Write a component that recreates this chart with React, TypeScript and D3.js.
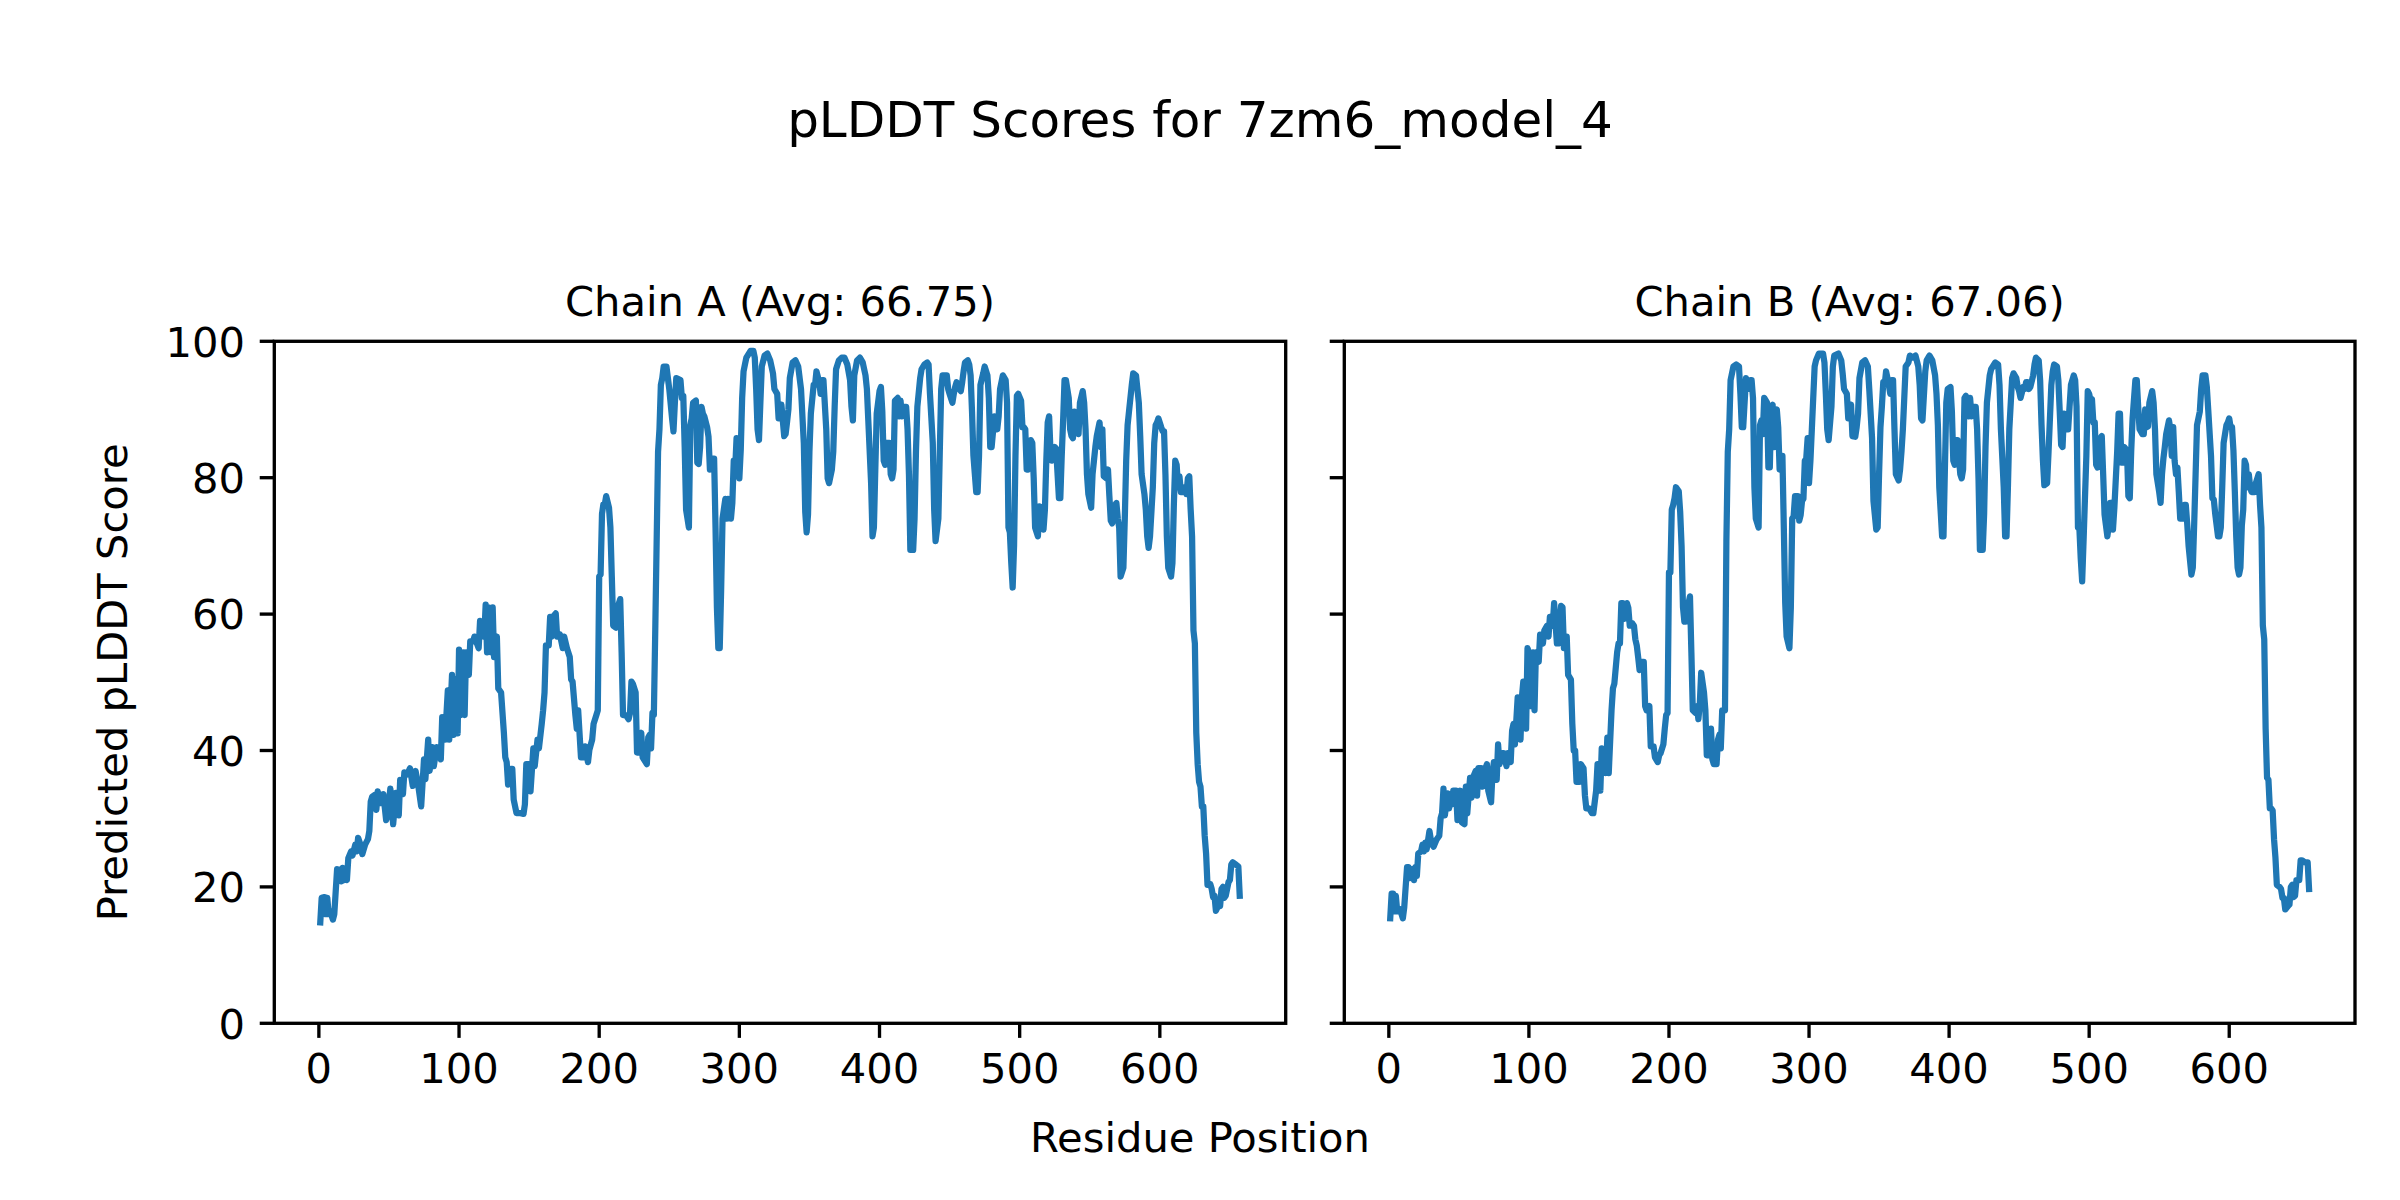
import React from "react";
import * as d3 from "d3";

const figureTitle = "pLDDT Scores for 7zm6_model_4";
const chainTitles = ["Chain A (Avg: 66.75)", "Chain B (Avg: 67.06)"];
const xLabel = "Residue Position";
const yLabel = "Predicted pLDDT Score";
const xTicks = [0, 100, 200, 300, 400, 500, 600];
const yTicks = [0, 20, 40, 60, 80, 100];
const nResidues = 657;

const chainA: [number, number][] = [
[1,14.8],[2,18.4],[4,18.5],[5,16.0],[6,18.4],[7,16.0],[8,16.5],[10,15.2],[11,16.0],[13,22.6],[15,22.5],[16,20.8],[17,22.8],[18,21.0],[19,22.6],[20,21.0],[21,24.2],[23,25.2],[24,24.6],[26,26.2],[27,25.2],[28,27.2],[30,26.0],[31,24.8],[33,26.2],[35,27.0],[36,28.2],[37,32.5],[38,33.2],[40,33.5],[41,31.3],[42,34.0],[43,32.5],[44,32.3],[45,33.5],[46,33.6],[48,29.8],[49,30.5],[51,34.4],[53,29.2],[55,33.8],[57,30.5],[58,35.7],[60,33.6],[61,36.8],[63,36.5],[65,37.4],[67,34.8],[69,37.0],[71,34.7],[73,31.8],[75,38.7],[76,35.8],[78,41.6],[79,37.0],[81,40.5],[82,37.7],[84,40.5],[87,38.7],[88,44.9],[90,41.6],[92,48.8],[93,41.6],[95,51.1],[96,42.3],[98,50.5],[99,42.5],[100,54.8],[101,45.2],[103,54.4],[104,45.2],[105,54.4],[107,51.1],[108,56.0],[110,56.0],[111,56.7],[114,55.0],[115,59.0],[117,58.6],[118,56.7],[119,61.4],[120,54.4],[121,61.0],[123,54.4],[124,61.0],[125,53.7],[127,56.7],[128,49.1],[130,48.5],[132,42.6],[133,39.0],[134,38.3],[135,35.0],[137,37.3],[138,37.3],[139,32.8],[141,30.8],[144,30.8],[146,30.7],[147,32.1],[148,38.0],[150,38.0],[151,34.0],[153,40.3],[154,37.7],[156,41.6],[157,40.3],[159,43.9],[160,45.9],[161,48.5],[162,55.4],[164,55.4],[165,59.6],[166,56.7],[167,59.6],[169,60.1],[170,56.7],[172,57.0],[174,55.0],[175,56.7],[177,55.0],[179,53.7],[180,50.4],[181,50.1],[183,45.2],[184,43.2],[185,45.9],[187,39.0],[189,39.0],[190,40.6],[192,38.3],[193,40.1],[195,41.6],[196,43.9],[198,45.2],[199,45.9],[200,65.5],[201,65.8],[202,74.7],[203,76.1],[204,76.1],[205,77.3],[207,75.6],[208,72.7],[209,65.5],[210,58.3],[212,58.0],[213,60.9],[215,62.2],[216,54.4],[217,45.2],[219,45.2],[221,44.6],[222,45.5],[223,50.1],[224,49.8],[226,48.5],[227,39.7],[228,39.7],[230,42.6],[231,39.0],[234,38.0],[235,41.9],[236,42.3],[237,40.3],[238,45.5],[239,45.2],[240,57.6],[242,83.8],[243,87.1],[244,93.6],[245,94.6],[246,96.3],[248,96.3],[250,93.0],[252,88.7],[253,86.8],[254,91.0],[255,94.6],[258,94.3],[259,91.7],[260,92.0],[261,84.5],[262,75.3],[264,72.7],[265,87.7],[266,88.7],[267,91.0],[269,91.3],[270,82.2],[271,82.0],[272,84.5],[273,90.4],[274,89.4],[275,89.0],[277,87.4],[278,86.0],[279,81.2],[280,82.8],[282,82.8],[283,72.7],[284,60.9],[285,55.0],[286,55.0],[287,63.5],[288,74.0],[290,76.9],[291,74.0],[292,76.9],[294,74.0],[295,76.3],[296,82.5],[297,81.2],[298,85.8],[300,79.9],[301,84.1],[302,91.7],[303,95.6],[304,96.6],[305,97.6],[308,98.6],[310,98.6],[311,97.6],[312,93.0],[313,87.1],[314,85.5],[315,91.0],[316,96.3],[318,97.9],[320,98.2],[322,97.2],[324,95.3],[325,93.0],[327,92.3],[328,88.7],[329,89.0],[330,90.7],[332,86.1],[333,86.4],[334,88.1],[335,90.0],[336,94.6],[338,96.9],[340,97.2],[342,96.3],[344,93.0],[346,85.0],[347,75.0],[348,72.0],[349,74.6],[350,83.8],[351,89.4],[353,93.6],[354,93.6],[355,95.6],[357,94.0],[358,92.3],[359,94.3],[360,94.3],[362,87.1],[363,79.9],[364,79.2],[366,81.2],[367,83.8],[368,90.4],[369,95.9],[371,97.2],[373,97.6],[375,97.6],[377,96.6],[379,94.3],[380,90.4],[381,88.4],[382,95.0],[384,97.2],[386,97.6],[388,96.9],[390,95.0],[391,93.0],[392,88.4],[394,79.2],[395,71.4],[396,72.7],[397,81.2],[398,89.4],[400,92.7],[401,93.3],[402,89.7],[403,82.5],[404,81.9],[405,85.1],[407,85.1],[408,80.5],[409,79.9],[410,81.2],[411,91.3],[413,91.7],[414,89.0],[415,91.3],[416,89.0],[417,90.4],[419,90.4],[420,87.1],[421,80.5],[422,69.4],[424,69.4],[425,74.0],[426,83.8],[427,90.4],[429,94.6],[430,95.9],[432,96.6],[434,96.9],[435,96.6],[436,92.3],[438,85.1],[439,75.3],[440,70.7],[442,74.0],[443,83.8],[444,93.0],[445,95.0],[448,95.0],[449,93.0],[450,92.3],[452,91.0],[453,92.3],[454,93.3],[455,94.0],[457,93.0],[458,92.7],[459,94.0],[460,95.6],[461,96.9],[463,97.2],[464,96.6],[465,95.0],[466,89.7],[467,83.2],[469,77.9],[470,77.9],[471,83.2],[472,93.6],[474,95.3],[475,96.3],[477,95.0],[478,91.7],[479,84.5],[480,84.5],[482,89.0],[483,87.1],[484,87.1],[485,89.0],[486,93.0],[488,95.0],[490,94.3],[491,91.0],[492,72.7],[493,72.0],[494,67.5],[495,63.9],[496,70.0],[497,83.2],[498,92.0],[499,92.3],[501,91.3],[502,87.4],[503,87.4],[504,87.1],[505,81.2],[506,81.2],[508,85.5],[509,85.1],[510,80.0],[511,72.7],[513,71.4],[514,75.8],[515,75.7],[517,72.4],[518,75.3],[519,82.5],[520,88.1],[521,89.0],[522,83.8],[523,82.5],[525,84.5],[526,84.3],[528,77.0],[529,77.0],[530,83.2],[531,88.4],[532,94.3],[533,94.3],[535,91.7],[536,87.1],[537,86.1],[538,85.8],[539,89.7],[540,87.5],[542,86.4],[543,91.0],[545,92.7],[546,91.0],[547,87.1],[548,80.5],[549,77.6],[551,75.6],[552,80.5],[553,82.5],[554,84.5],[555,86.1],[557,88.1],[558,84.5],[559,87.1],[560,80.2],[562,79.9],[563,81.2],[564,77.3],[565,73.7],[566,73.3],[568,76.0],[569,76.3],[570,74.0],[571,72.7],[572,65.5],[574,66.8],[575,74.0],[576,82.5],[577,87.7],[578,89.7],[580,93.6],[581,95.3],[583,95.0],[584,93.0],[585,91.0],[586,86.1],[587,80.5],[589,77.6],[590,75.3],[591,71.4],[592,69.7],[593,71.4],[595,78.6],[596,85.1],[597,87.7],[598,88.1],[599,88.7],[601,87.4],[602,86.8],[603,86.8],[604,80.5],[605,71.4],[606,66.8],[608,65.5],[609,67.5],[610,76.0],[611,82.5],[612,81.9],[613,78.6],[614,80.2],[615,77.9],[617,77.9],[618,78.6],[619,77.6],[620,79.9],[621,80.2],[622,75.3],[623,71.4],[624,57.6],[625,55.7],[626,42.6],[627,38.0],[628,35.4],[629,34.7],[630,31.8],[631,31.8],[632,27.5],[633,24.9],[634,20.3],[636,20.4],[637,19.7],[638,18.5],[639,18.7],[640,16.5],[642,17.4],[643,17.2],[644,19.7],[645,20.0],[646,18.4],[647,18.7],[649,20.7],[650,21.0],[651,23.3],[652,23.6],[654,23.3],[656,23.0],[657,18.7]
];

const chainB: [number, number][] = [
[1,15.4],[2,19.0],[3,19.0],[4,16.4],[5,18.7],[6,16.4],[8,16.7],[10,15.4],[11,17.0],[13,22.9],[14,22.9],[15,21.3],[17,22.6],[18,21.0],[19,22.9],[20,21.6],[21,24.9],[23,25.2],[24,26.2],[25,25.2],[26,26.5],[27,25.5],[29,28.2],[30,26.9],[31,26.2],[32,25.9],[34,26.9],[36,27.5],[37,30.1],[38,30.8],[39,34.4],[40,30.5],[42,33.7],[43,31.5],[44,33.4],[45,32.1],[46,34.1],[48,34.1],[49,29.8],[51,34.1],[52,29.5],[54,29.2],[55,34.7],[56,30.8],[58,36.0],[59,33.1],[60,36.0],[62,37.0],[63,33.4],[64,37.4],[66,37.4],[67,34.7],[69,37.4],[70,38.0],[71,34.1],[73,32.4],[74,36.7],[75,38.3],[77,35.7],[78,40.9],[79,38.0],[81,39.6],[82,39.6],[84,37.7],[85,39.6],[87,38.3],[88,42.9],[89,43.9],[90,40.9],[92,47.8],[93,43.2],[94,41.6],[95,47.8],[96,50.1],[98,43.2],[99,55.0],[100,54.4],[101,46.5],[103,54.4],[104,45.9],[105,54.4],[107,53.0],[108,57.0],[110,55.7],[111,57.6],[113,58.3],[114,56.7],[115,59.6],[117,58.3],[118,61.6],[120,55.7],[121,55.7],[123,61.2],[124,61.0],[125,55.0],[126,56.7],[127,56.7],[128,51.1],[130,50.4],[131,43.9],[132,40.0],[133,40.0],[134,35.4],[136,35.4],[137,38.0],[139,37.4],[140,33.4],[141,31.5],[143,31.5],[145,30.8],[146,30.8],[148,34.1],[149,38.0],[150,38.0],[151,34.1],[152,40.3],[153,40.0],[155,36.7],[156,41.9],[157,36.7],[158,41.3],[159,45.9],[160,49.1],[161,49.8],[163,54.4],[164,55.7],[165,55.7],[166,61.6],[167,61.6],[168,59.3],[170,61.6],[171,60.9],[172,58.3],[174,58.6],[175,58.3],[176,56.3],[177,55.4],[178,53.7],[179,51.8],[180,53.0],[182,53.0],[183,46.5],[184,45.9],[186,46.5],[187,40.6],[189,40.6],[190,39.0],[192,38.3],[193,39.3],[194,39.6],[196,40.9],[197,43.2],[198,45.2],[199,45.5],[200,66.1],[201,66.1],[202,75.3],[203,76.0],[204,77.0],[205,78.6],[207,78.0],[208,75.0],[209,70.0],[210,61.0],[211,58.9],[212,58.9],[214,61.6],[215,62.6],[216,54.4],[217,45.9],[219,45.5],[220,46.5],[221,44.6],[222,46.8],[223,51.4],[225,48.5],[226,45.9],[227,39.3],[229,39.3],[230,43.2],[231,38.7],[232,38.0],[234,38.0],[235,41.6],[236,42.3],[237,40.3],[238,45.9],[240,45.9],[241,70.7],[242,83.8],[243,87.1],[244,94.3],[245,95.3],[246,96.3],[248,96.6],[250,96.3],[251,92.3],[252,87.4],[253,87.4],[254,91.0],[255,94.6],[256,93.0],[258,94.3],[259,94.3],[260,91.7],[261,78.6],[262,74.0],[264,72.7],[265,87.7],[266,88.4],[267,86.4],[268,91.7],[270,91.0],[271,81.5],[272,81.5],[273,90.4],[274,90.7],[275,84.5],[276,89.7],[277,90.0],[278,87.4],[279,81.2],[280,83.2],[281,83.2],[282,72.7],[283,61.6],[284,56.7],[286,55.0],[287,60.9],[288,74.0],[289,74.3],[290,77.3],[292,77.3],[293,73.7],[294,74.5],[295,76.6],[296,76.9],[297,82.5],[298,82.8],[299,85.8],[300,79.2],[301,82.5],[302,87.1],[303,91.7],[304,96.3],[305,97.2],[307,98.2],[310,98.2],[311,96.9],[312,92.3],[313,87.1],[314,85.5],[316,90.4],[317,96.3],[318,97.9],[321,98.2],[323,97.2],[324,95.3],[325,93.0],[327,92.3],[328,88.7],[329,89.0],[330,90.7],[331,86.1],[333,86.0],[334,87.4],[335,89.4],[336,94.6],[338,96.9],[340,97.2],[342,96.3],[343,93.0],[345,85.8],[346,76.6],[348,72.4],[349,72.7],[350,80.5],[351,87.4],[352,90.4],[353,94.0],[354,93.6],[355,95.6],[357,93.6],[358,92.3],[359,94.3],[360,94.3],[361,87.1],[362,80.5],[364,79.6],[365,81.2],[366,83.8],[367,87.1],[368,91.7],[369,96.3],[371,96.9],[372,97.9],[374,97.6],[376,97.9],[378,96.3],[379,93.6],[380,88.7],[381,88.4],[383,95.6],[384,97.2],[386,97.9],[388,97.2],[390,95.0],[391,92.3],[392,87.7],[393,78.6],[395,71.4],[396,71.4],[397,81.2],[398,91.0],[399,93.0],[401,93.3],[402,89.7],[403,82.5],[404,81.9],[405,85.5],[406,85.5],[408,80.5],[409,79.9],[410,81.2],[411,91.7],[412,92.0],[414,89.0],[415,91.7],[416,89.0],[417,90.4],[419,90.4],[420,87.1],[421,79.9],[422,69.4],[424,69.4],[425,74.6],[426,84.5],[427,91.0],[429,95.0],[430,95.9],[433,96.9],[435,96.6],[436,93.6],[437,87.1],[439,78.6],[440,71.4],[441,71.4],[442,78.6],[443,87.1],[445,94.6],[446,95.3],[448,94.6],[449,93.3],[450,92.7],[451,91.7],[453,93.3],[454,93.0],[455,94.0],[456,94.0],[457,93.0],[458,93.3],[460,95.0],[461,96.6],[462,97.6],[464,97.2],[465,94.3],[466,87.7],[467,82.5],[468,78.9],[470,79.2],[471,83.8],[472,88.7],[473,93.6],[474,95.6],[475,96.6],[477,96.3],[478,94.3],[479,89.7],[480,84.8],[481,84.5],[482,89.4],[483,87.1],[485,87.1],[486,90.4],[487,93.6],[489,95.0],[490,94.3],[491,90.4],[492,72.7],[493,72.7],[494,68.1],[495,64.8],[496,70.7],[498,83.2],[499,92.7],[500,92.3],[501,91.3],[502,91.5],[503,88.1],[504,88.1],[505,81.9],[506,81.5],[508,85.8],[509,86.1],[510,80.5],[511,74.6],[513,71.4],[514,73.0],[515,76.3],[516,76.3],[517,72.4],[518,75.6],[520,83.8],[521,89.4],[522,89.4],[523,82.2],[524,82.2],[525,84.5],[527,84.0],[528,77.3],[529,77.0],[530,83.8],[531,88.7],[533,94.3],[534,94.3],[535,90.4],[536,87.1],[538,86.4],[539,86.4],[540,90.0],[541,87.4],[542,87.5],[543,91.0],[545,92.7],[546,91.0],[547,87.1],[548,80.5],[550,77.9],[551,76.3],[552,80.5],[553,82.8],[554,84.5],[555,86.4],[557,88.4],[558,87.1],[559,83.2],[560,87.4],[561,82.5],[562,80.5],[563,81.5],[564,77.9],[565,74.0],[567,74.0],[568,76.0],[569,76.0],[570,73.3],[571,70.0],[573,65.8],[574,66.8],[575,73.3],[576,80.5],[577,87.7],[579,89.7],[580,93.0],[581,95.0],[583,95.0],[584,93.3],[585,90.0],[587,83.2],[588,77.0],[589,76.8],[590,74.7],[592,71.4],[593,71.4],[594,72.7],[595,78.6],[596,85.1],[598,87.7],[599,88.1],[600,88.7],[601,87.4],[602,87.4],[603,84.0],[604,78.0],[605,71.4],[606,66.8],[607,65.8],[608,66.8],[609,73.0],[610,75.3],[611,82.5],[612,81.9],[613,78.6],[614,80.5],[615,78.5],[616,77.9],[618,77.9],[619,79.2],[621,80.5],[622,76.0],[623,72.7],[624,58.3],[625,56.3],[626,43.2],[627,36.0],[628,35.7],[629,31.5],[630,31.5],[631,31.2],[632,27.0],[633,24.3],[634,20.3],[636,20.0],[637,19.7],[638,18.4],[639,18.4],[640,16.7],[642,17.2],[643,17.4],[644,20.0],[645,20.3],[646,18.5],[647,18.7],[648,21.0],[650,21.0],[651,23.9],[652,23.9],[654,23.6],[656,23.6],[657,19.7]
];

const W = 2400;
const H = 1200;
const FONT = "DejaVu Sans";
const axTop = 341.3;
const axBottom = 1023.3;
const panels = [
  { left: 274.3, right: 1285.7, data: chainA, title: chainTitles[0], showYLabels: true },
  { left: 1344.3, right: 2355, data: chainB, title: chainTitles[1], showYLabels: false },
];
const tickLen = 14.58;
const tickW = 3.33;
const spineW = 3.33;
const lineColor = "#1f77b4";

function Panel({ p }: { p: typeof panels[0] }) {
  const margin = 0.05 * (nResidues - 1);
  const x = d3.scaleLinear().domain([1 - margin, nResidues + margin]).range([p.left, p.right]);
  const y = d3.scaleLinear().domain([0, 100]).range([axBottom, axTop]);
  const line = d3.line<[number, number]>().x((d) => x(d[0])).y((d) => y(d[1]));
  const cx = (p.left + p.right) / 2;
  return (
    <g>
      <path d={line(p.data) || ""} fill="none" stroke={lineColor} strokeWidth={6.25}
        strokeLinejoin="round" strokeLinecap="square" />
      <rect x={p.left} y={axTop} width={p.right - p.left} height={axBottom - axTop}
        fill="none" stroke="#000" strokeWidth={spineW} strokeLinejoin="miter" />
      {xTicks.map((t) => (
        <g key={"x" + t}>
          <line x1={x(t)} x2={x(t)} y1={axBottom} y2={axBottom + tickLen} stroke="#000" strokeWidth={tickW} />
          <text x={x(t)} y={axBottom + 60} textAnchor="middle" fontFamily={FONT} fontSize={41.67} fill="#000">{t}</text>
        </g>
      ))}
      {yTicks.map((t) => (
        <g key={"y" + t}>
          <line x1={p.left - tickLen} x2={p.left} y1={y(t)} y2={y(t)} stroke="#000" strokeWidth={tickW} />
          {p.showYLabels && (
            <text x={p.left - 2 * tickLen} y={y(t) + 15.2} textAnchor="end" fontFamily={FONT} fontSize={41.67} fill="#000">{t}</text>
          )}
        </g>
      ))}
      <text x={cx} y={axTop - 25} textAnchor="middle" fontFamily={FONT} fontSize={41.67} fill="#000">{p.title}</text>
    </g>
  );
}

export default function App() {
  return (
    <svg width={W} height={H} viewBox={`0 0 ${W} ${H}`}
      style={{ position: "absolute", left: 0, top: 0, background: "#fff" }}>
      <rect x={0} y={0} width={W} height={H} fill="#fff" />
      <text x={W / 2} y={137} textAnchor="middle" fontFamily={FONT} fontSize={50} fill="#000">{figureTitle}</text>
      {panels.map((p, i) => <Panel key={i} p={p} />)}
      <text x={W / 2} y={1152} textAnchor="middle" fontFamily={FONT} fontSize={41.67} fill="#000">{xLabel}</text>
      <text transform={`translate(127, ${(axTop + axBottom) / 2}) rotate(-90)`} textAnchor="middle"
        fontFamily={FONT} fontSize={41.67} fill="#000">{yLabel}</text>
    </svg>
  );
}
